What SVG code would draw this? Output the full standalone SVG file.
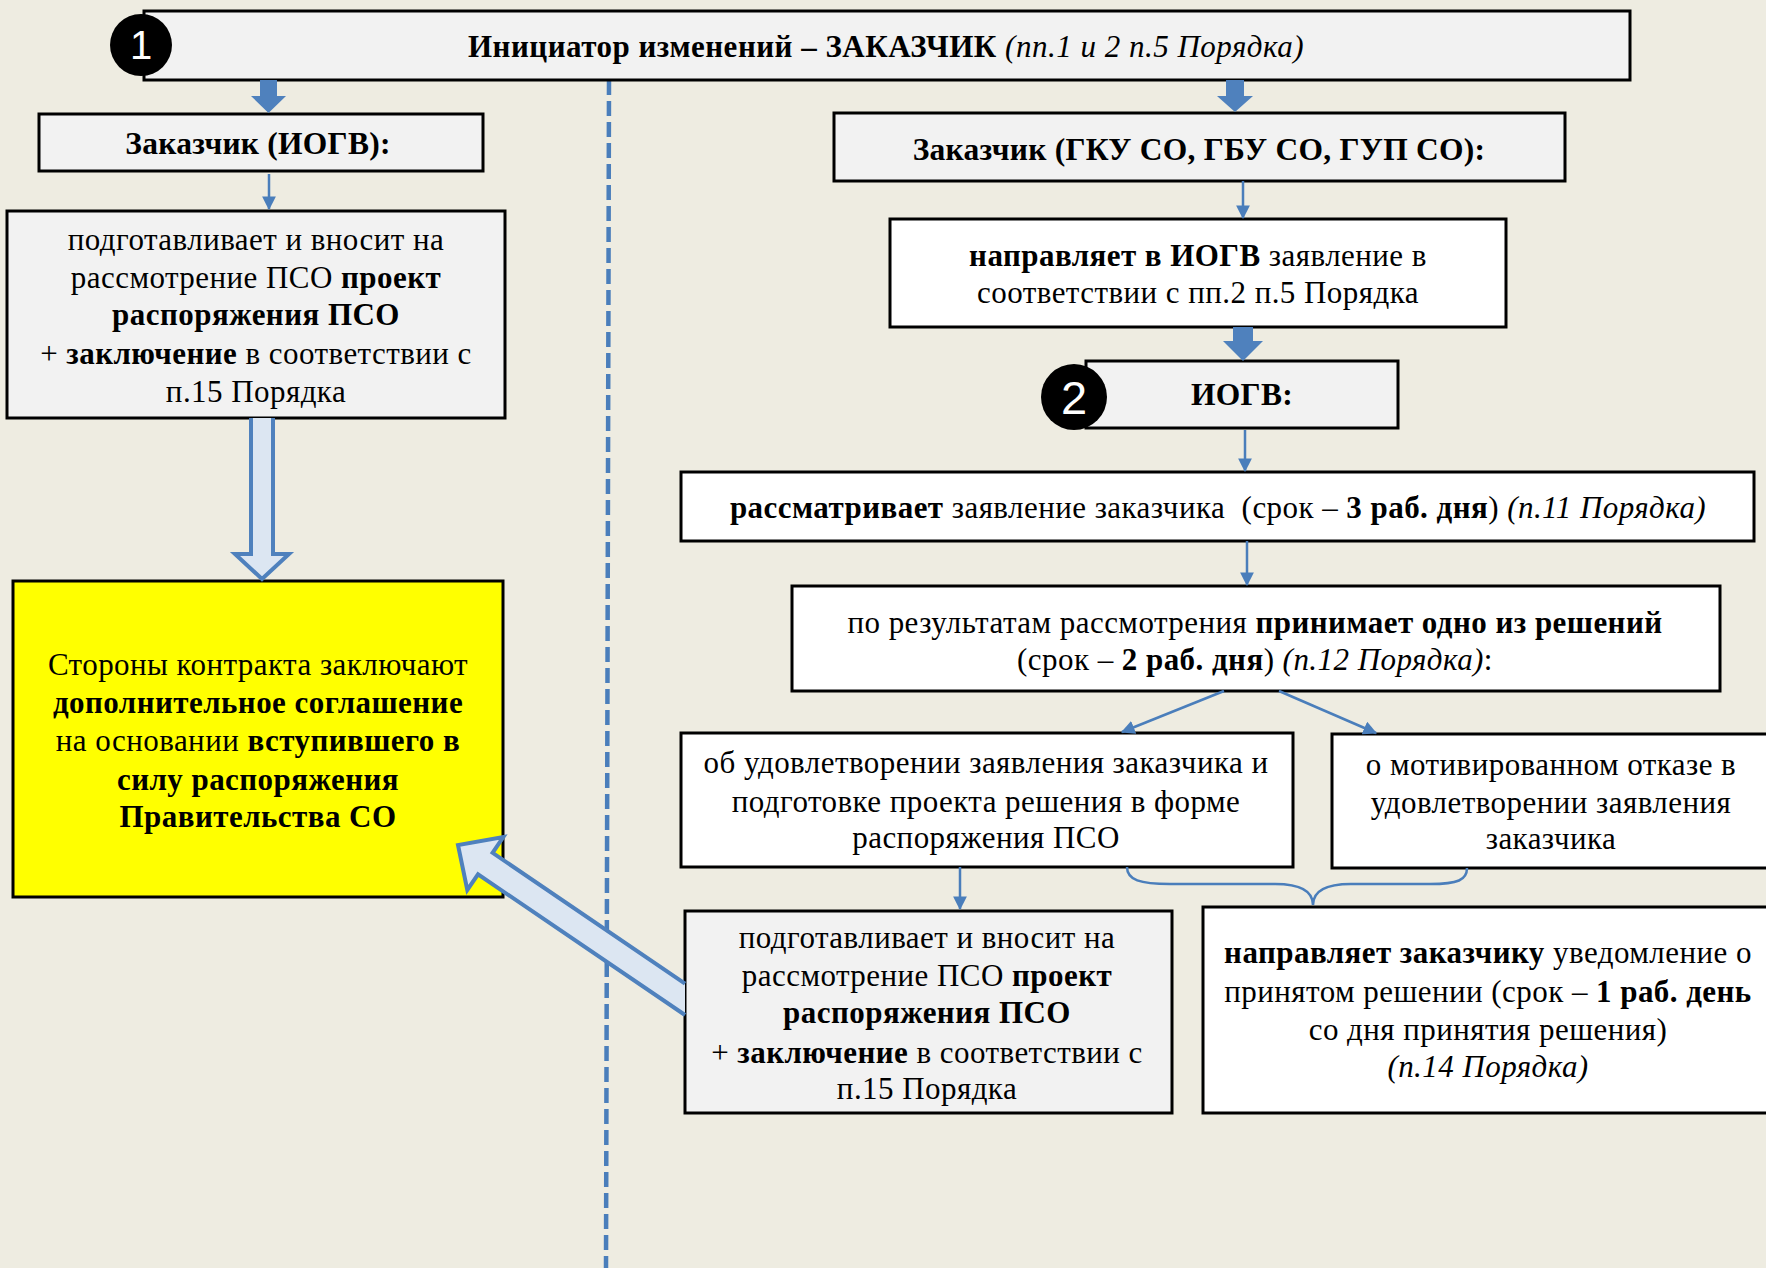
<svg xmlns="http://www.w3.org/2000/svg" width="1766" height="1268" viewBox="0 0 1766 1268">
<defs>
<style>
.bx{stroke:#000;stroke-width:3}
.g{fill:#f2f2f2}
.w{fill:#ffffff}
.y{fill:#ffff00}
.t{font-family:"Liberation Serif","Times New Roman",serif;font-size:31px;letter-spacing:0.45px;fill:#000;text-anchor:middle}
.h{font-family:"Liberation Serif","Times New Roman",serif;font-size:31.5px;letter-spacing:0.25px;font-weight:bold;fill:#000;text-anchor:middle}
.b{font-weight:bold}
.i{font-style:italic}
.ln{stroke:#4a7ebb;stroke-width:2.5;fill:none}
.fat{fill:#4f81bd}
.hol{fill:#dce6f2;stroke:none}
.holo{fill:none;stroke:#4f81bd;stroke-width:4;stroke-linejoin:miter}
.num{font-family:"Liberation Sans","DejaVu Sans",sans-serif;fill:#fff;text-anchor:middle}
</style>
<marker id="ah" viewBox="0 0 12 12" refX="11" refY="6" markerWidth="5.5" markerHeight="5.5" orient="auto" markerUnits="strokeWidth">
<path d="M0,0 L12,6 L0,12 z" fill="#4a7ebb"/>
</marker>
</defs>
<rect width="1766" height="1268" fill="#eeece1"/>
<line x1="609" y1="80" x2="606" y2="1268" stroke="#4a7ebb" stroke-width="4.5" stroke-dasharray="15,6"/>

<g id="n-init">
<rect class="bx g" x="144" y="11" width="1486" height="69"/>
<text class="t" x="886" y="57" style="letter-spacing:0.5px"><tspan class="b">Инициатор изменений – ЗАКАЗЧИК </tspan><tspan class="i">(пп.1 и 2 п.5 Порядка)</tspan></text>
<circle cx="141" cy="45" r="31" fill="#000"/>
<text class="num" x="141" y="59" style="font-size:40px">1</text>
</g>

<g id="n-iogv-cust">
<rect class="bx g" x="39" y="114" width="444" height="57"/>
<text class="h" x="258" y="154">Заказчик (ИОГВ):</text>
</g>

<g id="n-left-prep">
<rect class="bx g" x="7" y="211" width="498" height="207"/>
<text class="t" x="256" y="250">подготавливает и вносит на</text>
<text class="t" x="256" y="288">рассмотрение ПСО <tspan class="b">проект</tspan></text>
<text class="t" x="256" y="325"><tspan class="b">распоряжения ПСО</tspan></text>
<text class="t" x="256" y="364">+ <tspan class="b">заключение</tspan> в соответствии с</text>
<text class="t" x="256" y="402">п.15 Порядка</text>
</g>

<g id="n-agreement">
<rect class="bx y" x="13" y="581" width="490" height="316"/>
<text class="t" x="258" y="675">Стороны контракта заключают</text>
<text class="t" x="258" y="713"><tspan class="b">дополнительное соглашение</tspan></text>
<text class="t" x="258" y="751">на основании <tspan class="b">вступившего в</tspan></text>
<text class="t" x="258" y="790"><tspan class="b">силу распоряжения</tspan></text>
<text class="t" x="258" y="827"><tspan class="b">Правительства СО</tspan></text>
</g>

<g id="n-gku-cust">
<rect class="bx g" x="834" y="113" width="731" height="68"/>
<text class="h" x="1199" y="160">Заказчик (ГКУ СО, ГБУ СО, ГУП СО):</text>
</g>

<g id="n-send-iogv">
<rect class="bx w" x="890" y="219" width="616" height="108"/>
<text class="t" x="1198" y="266"><tspan class="b">направляет в ИОГВ</tspan> заявление в</text>
<text class="t" x="1198" y="303">соответствии с пп.2 п.5 Порядка</text>
</g>

<g id="n-iogv">
<rect class="bx g" x="1086" y="361" width="312" height="67"/>
<text class="h" x="1242" y="405">ИОГВ:</text>
<circle cx="1074" cy="397" r="33" fill="#000"/>
<text class="num" x="1074" y="414" style="font-size:47px">2</text>
</g>

<g id="n-review">
<rect class="bx w" x="681" y="472" width="1073" height="69"/>
<text class="t" x="1218" y="518" style="white-space:pre"><tspan class="b">рассматривает</tspan> заявление заказчика  (срок – <tspan class="b">3 раб. дня</tspan>) <tspan class="i">(п.11 Порядка)</tspan></text>
</g>

<g id="n-decide">
<rect class="bx w" x="792" y="586" width="928" height="105"/>
<text class="t" x="1255" y="633">по результатам рассмотрения <tspan class="b">принимает одно из решений</tspan></text>
<text class="t" x="1255" y="670">(срок – <tspan class="b">2 раб. дня</tspan>) <tspan class="i">(п.12 Порядка)</tspan>:</text>
</g>

<g id="n-approve">
<rect class="bx w" x="681" y="733" width="612" height="134"/>
<text class="t" x="986" y="773">об удовлетворении заявления заказчика и</text>
<text class="t" x="986" y="812">подготовке проекта решения в форме</text>
<text class="t" x="986" y="848">распоряжения ПСО</text>
</g>

<g id="n-refuse">
<rect class="bx w" x="1332" y="734" width="470" height="134"/>
<text class="t" x="1551" y="775">о мотивированном отказе в</text>
<text class="t" x="1551" y="813">удовлетворении заявления</text>
<text class="t" x="1551" y="849">заказчика</text>
</g>

<g id="n-right-prep">
<rect class="bx g" x="685" y="911" width="487" height="202"/>
<text class="t" x="927" y="948">подготавливает и вносит на</text>
<text class="t" x="927" y="986">рассмотрение ПСО <tspan class="b">проект</tspan></text>
<text class="t" x="927" y="1023"><tspan class="b">распоряжения ПСО</tspan></text>
<text class="t" x="927" y="1063">+ <tspan class="b">заключение</tspan> в соответствии с</text>
<text class="t" x="927" y="1099">п.15 Порядка</text>
</g>

<g id="n-notify">
<rect class="bx w" x="1203" y="907" width="600" height="206"/>
<text class="t" x="1488" y="963"><tspan class="b">направляет заказчику</tspan> уведомление о</text>
<text class="t" x="1488" y="1002">принятом решении (срок – <tspan class="b">1 раб. день</tspan></text>
<text class="t" x="1488" y="1040">со дня принятия решения)</text>
<text class="t" x="1488" y="1077"><tspan class="i">(п.14 Порядка)</tspan></text>
</g>

<g id="connectors">
<polygon class="fat" points="260,80 277,80 277,96 286,96 268.5,113 251,96 260,96"/>
<polygon class="fat" points="1226,80 1244,80 1244,96 1253,96 1235,112 1217,96 1226,96"/>
<polygon class="fat" points="1233,327 1253,327 1253,341 1263,341 1243,361 1223,341 1233,341"/>
<line class="ln" x1="269" y1="174" x2="269" y2="209" marker-end="url(#ah)"/>
<line class="ln" x1="1243" y1="181" x2="1243" y2="218" marker-end="url(#ah)"/>
<line class="ln" x1="1245" y1="430" x2="1245" y2="471" marker-end="url(#ah)"/>
<line class="ln" x1="1247" y1="541" x2="1247" y2="585" marker-end="url(#ah)"/>
<line class="ln" x1="1224" y1="691" x2="1122" y2="732" marker-end="url(#ah)"/>
<line class="ln" x1="1279" y1="691" x2="1376" y2="733" marker-end="url(#ah)"/>
<line class="ln" x1="960" y1="867" x2="960" y2="909" marker-end="url(#ah)"/>
<path class="ln" d="M1127,867 C1127,880 1140,884 1170,884 L1275,884 C1303,884 1313,892 1313,905 C1313,892 1323,884 1351,884 L1430,884 C1458,884 1467,880 1467,868"/>
<polygon class="hol" points="251,418 273,418 273,554 289,554 262,579 235,554 251,554"/>
<polyline class="holo" points="251,418 251,554 235,554 262,579 289,554 273,554 273,418"/>
<polygon class="hol" points="685,983.6 492.6,852.8 503.3,837 458,845 467.3,890 478,874.3 685,1015"/>
<polyline class="holo" points="685,983.6 492.6,852.8 503.3,837 458,845 467.3,890 478,874.3 685,1015"/>
</g>
</svg>
